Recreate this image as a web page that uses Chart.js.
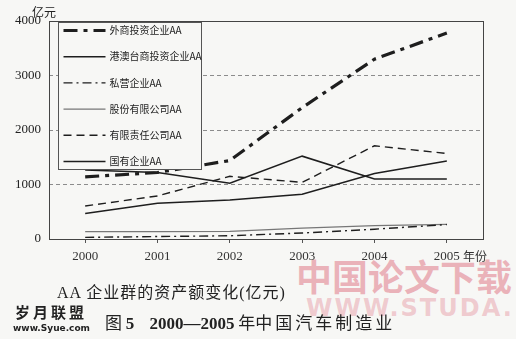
<!DOCTYPE html>
<html>
<head>
<meta charset="utf-8">
<script src="https://cdn.jsdelivr.net/npm/chart.js@4/dist/chart.umd.min.js"></script>
<style>
  html, body { margin: 0; padding: 0; background: #f7f7f5; }
  #wrap { position: relative; width: 516px; height: 339px; overflow: hidden; }
  #grafico { position: absolute; left: 0; top: 0; z-index: 2; }
  .txt { position: absolute; white-space: nowrap; color: #222; z-index: 3; }
  .marca { position: absolute; white-space: nowrap; z-index: 1; font-family: 'Noto Sans CJK SC', sans-serif; font-weight: 700; }
</style>
</head>
<body>
<div id="wrap">
  <!-- marcas d'agua do scan -->
  <div class="marca" style="left:296px; top:254px; font-size:36px; line-height:42px; color:rgba(222,110,125,0.5);">中国论文下载</div>
  <div class="marca" style="left:306px; top:295px; font-size:24px; line-height:26px; letter-spacing:2px; font-family:'DejaVu Sans', sans-serif; color:rgba(228,140,152,0.42);">WWW.STUDA.</div>

  <canvas id="grafico" width="516" height="339"></canvas>

  <div class="txt" style="left:32px; top:4px; font-size:12px; line-height:16px; font-family:'Noto Sans CJK SC', sans-serif;">亿元</div>
  <div class="txt" style="left:463px; top:248px; font-size:12px; line-height:16px; font-family:'Noto Sans CJK SC', sans-serif; color:#333;">年份</div>
  <div class="txt" style="left:57px; top:282px; font-size:16px; line-height:22px; letter-spacing:1px; font-family:'Liberation Serif','Noto Sans CJK SC', serif;">AA 企业群的资产额变化(亿元)</div>
  <div class="txt" style="left:15px; top:302px; font-size:15px; line-height:20px; font-weight:700; letter-spacing:3px; font-family:'Noto Sans CJK SC', sans-serif;">岁月联盟</div>
  <div class="txt" style="left:13px; top:322px; font-size:9px; line-height:12px; font-weight:700; font-family:'DejaVu Sans', sans-serif;">www.Syue.com</div>
  <div class="txt" style="left:105px; top:311px; font-size:17px; line-height:22px; font-family:'Noto Sans CJK SC', sans-serif;">图 <b style="font-family:'Liberation Serif', serif;">5</b>&nbsp;&nbsp;&nbsp; <b style="font-family:'Liberation Serif', serif;">2000—2005</b> 年<span style="letter-spacing:3px;">中国汽车制造业</span></div>
</div>

<script>
// categorias (anos) e nomes das series
const anos = ['2000', '2001', '2002', '2003', '2004', '2005'];
const nomes = ['外商投资企业AA', '港澳台商投资企业AA', '私营企业AA', '股份有限公司AA', '有限责任公司AA', '国有企业AA'];

// valores (亿元)
const waishang = [1140, 1220, 1440, 2410, 3300, 3780];
const gangaotai = [1265, 1220, 1025, 1520, 1100, 1100];
const siying = [30, 45, 60, 110, 180, 265];
const gufen = [135, 135, 140, 200, 245, 270];
const youxian = [605, 790, 1150, 1040, 1710, 1570];
const guoyou = [470, 655, 715, 820, 1200, 1430];

// marcas do eixo y
const ticksY = [0, 1000, 2000, 3000, 4000];

const fonteNum = "'Liberation Serif', serif";
const fonteCJK = "'Noto Sans CJK SC', sans-serif";

// estilo de cada serie
const estilos = [
  { cor: '#1e1e1e', largura: 3.2, traco: [14, 6, 4, 6] },
  { cor: '#1e1e1e', largura: 1.5, traco: [] },
  { cor: '#1e1e1e', largura: 1.4, traco: [9, 4, 2, 4] },
  { cor: '#777777', largura: 1.3, traco: [] },
  { cor: '#1e1e1e', largura: 1.4, traco: [8, 5] },
  { cor: '#1e1e1e', largura: 1.5, traco: [] }
];

const valores = [waishang, gangaotai, siying, gufen, youxian, guoyou];

let datasets = [];
for (let i = 0; i < valores.length; i++) {
  datasets.push({
    label: nomes[i],
    data: valores[i],
    borderColor: estilos[i].cor,
    borderWidth: estilos[i].largura,
    borderDash: estilos[i].traco,
    pointRadius: 0,
    tension: 0,
    fill: false
  });
}

// moldura da area do grafico
const moldura = {
  id: 'moldura',
  afterDatasetsDraw(chart) {
    const a = chart.chartArea;
    const ctx = chart.ctx;
    ctx.save();
    ctx.strokeStyle = '#444';
    ctx.lineWidth = 1;
    ctx.strokeRect(Math.round(a.left) + 0.5, Math.round(a.top) + 0.5, Math.round(a.right - a.left), Math.round(a.bottom - a.top));
    ctx.restore();
  }
};

// legenda dentro do grafico, com caixa
const legendaCaixa = {
  id: 'legendaCaixa',
  afterDraw(chart) {
    const a = chart.chartArea;
    const ctx = chart.ctx;
    const x0 = Math.round(a.left) + 9.5;
    const y0 = Math.round(a.top) + 1.5;
    const w = 143, h = 147;
    ctx.save();
    ctx.fillStyle = '#f7f7f5';
    ctx.fillRect(x0, y0, w, h);
    ctx.strokeStyle = '#555';
    ctx.lineWidth = 1;
    ctx.strokeRect(x0, y0, w, h);
    ctx.font = '10px ' + fonteCJK;
    ctx.textBaseline = 'middle';
    chart.data.datasets.forEach(function (ds, i) {
      const y = y0 + 8 + i * 26.2;
      ctx.strokeStyle = ds.borderColor;
      ctx.lineWidth = ds.borderWidth;
      ctx.setLineDash(ds.borderDash);
      ctx.beginPath();
      ctx.moveTo(x0 + 5, y);
      ctx.lineTo(x0 + 47, y);
      ctx.stroke();
      ctx.setLineDash([]);
      ctx.fillStyle = '#222';
      ctx.fillText(ds.label, x0 + 51, y);
    });
    ctx.restore();
  }
};

new Chart(document.getElementById('grafico'), {
  type: 'line',
  data: { labels: anos, datasets: datasets },
  options: {
    responsive: false,
    animation: false,
    devicePixelRatio: 1,
    layout: { padding: { left: 0, top: 21, right: 33, bottom: 74 } },
    plugins: {
      legend: { display: false },
      tooltip: { enabled: false }
    },
    scales: {
      x: {
        offset: true,
        border: { display: false },
        grid: { display: true, drawOnChartArea: false, drawTicks: true, tickLength: 4, color: '#555' },
        ticks: { color: '#333', font: { family: fonteNum, size: 13 }, padding: 6, maxRotation: 0 },
        afterFit: function (s) { s.height = 26; }
      },
      y: {
        min: 0,
        max: 4000,
        afterBuildTicks: function (s) { s.ticks = ticksY.map(v => ({ value: v })); },
        border: { display: false, dash: [4, 3] },
        grid: {
          drawTicks: false,
          lineWidth: 1,
          color: function (c) { return (c.tick && c.tick.value > 0 && c.tick.value < 4000) ? '#8c8c8c' : 'rgba(0,0,0,0)'; }
        },
        ticks: { color: '#222', font: { family: fonteNum, size: 13 }, padding: 8, callback: function (v) { return String(v); } },
        afterFit: function (s) { s.width = 49; }
      }
    }
  },
  plugins: [moldura, legendaCaixa]
});
</script>
</body>
</html>
